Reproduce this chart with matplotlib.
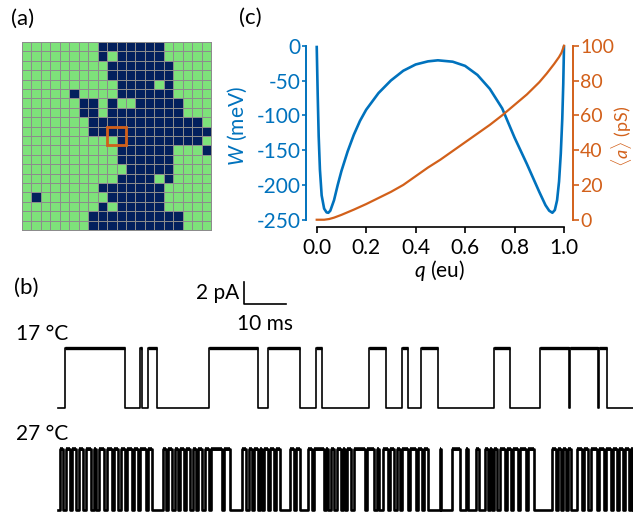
import numpy as np
import matplotlib
matplotlib.use("Agg")
import matplotlib.pyplot as plt
from matplotlib.colors import ListedColormap
from matplotlib.patches import Rectangle

plt.rcParams['font.family'] = ['Lato', 'DejaVu Sans']
plt.rcParams['mathtext.fontset'] = 'custom'
plt.rcParams['mathtext.rm'] = 'Lato'
plt.rcParams['mathtext.it'] = 'Lato:italic'
plt.rcParams['axes.unicode_minus'] = False

BLUE = '#0072bd'
ORANGE = '#d2601a'
GREEN = '#7ee27a'
NAVY = '#03205d'
FS = 15

# (a) lattice, 1 = dark site
lattice_rows = [
    "00000000111111100000",
    "00000000101111100000",
    "00000000011111110000",
    "00000000011111110000",
    "00000000001111010000",
    "00000100001111110000",
    "00000011010011111000",
    "00000011011111111000",
    "00000001111111111110",
    "00000001111111111111",
    "00000000001111111110",
    "00000000001111110001",
    "00000000001111110000",
    "00000000000111110000",
    "00000000001111010000",
    "00000000111111100000",
    "01000000011111100000",
    "00000000101111100000",
    "00000001111111111000",
    "00000001111111111000",
]
box_col, box_row, box_size = 9, 9, 2

# (c) free energy W(q) and conductance <a>(q)
q_w = [0.0, 0.004, 0.008, 0.013, 0.02, 0.03, 0.04, 0.047, 0.055, 0.07, 0.085,
       0.1, 0.125, 0.15, 0.175, 0.2, 0.25, 0.3, 0.35, 0.4, 0.45, 0.49, 0.55,
       0.6, 0.65, 0.7, 0.75, 0.8, 0.85, 0.9, 0.925, 0.94, 0.953, 0.963, 0.972,
       0.98, 0.987, 0.993, 0.997, 1.0]
w_mev = [0, -70, -130, -178, -215, -234, -239.5, -240, -237, -222, -200,
         -180, -152, -128, -108, -92, -68, -50, -36, -27, -22.5, -21, -23,
         -29, -42, -62, -90, -132, -170, -210, -229, -237, -240, -236, -222,
         -195, -155, -105, -55, 0]
q_a = [0.0, 0.03, 0.05, 0.07, 0.1, 0.15, 0.2, 0.25, 0.3, 0.35, 0.4, 0.45, 0.5,
       0.55, 0.6, 0.65, 0.7, 0.75, 0.8, 0.85, 0.9, 0.93, 0.96, 0.98, 0.99, 1.0]
a_ps = [0, 0, 0.4, 1.2, 2.8, 5.8, 9, 12.5, 16, 20, 25, 30, 34.5, 39.5, 44.5,
        49.5, 54.5, 60, 66, 72, 79, 84, 89.5, 93.5, 96, 100]

# (b) single-channel openings (start, end) in ms
open_17 = [(1.7, 16.0), (19.5, 19.9), (21.5, 23.5), (36.0, 47.6), (50.0, 57.6),
           (61.5, 62.8), (74.0, 78.1), (81.8, 83.4), (86.4, 90.5), (103.8, 107.5),
           (114.8, 121.6), (121.9, 128.5), (128.9, 130.6)]
open_27 = [(0.5, 1.2), (1.9, 2.9), (3.3, 4.3), (5.0, 6.0), (6.7, 7.9), (8.6, 9.0),
           (9.8, 11.0), (11.7, 12.9), (13.3, 14.3), (15.0, 16.0), (16.4, 17.6),
           (18.1, 19.0), (19.5, 21.0), (21.4, 22.4), (25.0, 25.7), (26.2, 27.1),
           (27.9, 28.6), (29.0, 30.0), (30.5, 31.4), (32.1, 32.9), (33.3, 34.3),
           (35.0, 36.0), (36.4, 39.0), (39.5, 41.0), (43.8, 44.8), (45.5, 46.2),
           (46.7, 47.6), (48.1, 48.6), (49.0, 50.0), (50.5, 51.4), (51.9, 52.9),
           (55.2, 56.2), (56.7, 57.6), (59.5, 60.5), (61.0, 63.3), (63.8, 64.3),
           (65.0, 65.7), (66.4, 67.4), (67.9, 68.3), (68.8, 69.8), (70.5, 73.1),
           (73.6, 75.2), (76.0, 76.4), (77.4, 78.6), (79.0, 80.0), (80.7, 81.4),
           (81.9, 83.3), (83.8, 85.2), (85.7, 86.7), (87.1, 88.1), (91.0, 91.3),
           (93.8, 95.7), (97.1, 97.6), (99.5, 100.2), (101.7, 102.4), (102.9, 103.3),
           (103.8, 104.5), (105.2, 106.4), (106.9, 107.9), (108.3, 109.5),
           (110.0, 111.4), (111.9, 113.3), (117.6, 118.6), (119.0, 119.8),
           (120.2, 121.0), (121.4, 122.1), (123.6, 124.8), (125.2, 126.2),
           (126.9, 128.3), (128.8, 130.0), (130.5, 131.7), (132.1, 133.1),
           (133.6, 134.5), (135.0, 136.0), (136.4, 136.9)]
i_open = 5.5      # pA
t_end = 136.9     # ms
base_27 = -9.27   # vertical offset of the 27 C trace, pA


def fx(x):
    return x / 633


def fy(y):
    return 1 - y / 516


def steps(openings, base):
    t = [0.0]
    y = [base]
    for s, e in openings:
        t += [s, s, e, e]
        y += [base, base + i_open, base + i_open, base]
    t.append(t_end)
    y.append(base)
    return np.array(t), np.array(y)


fig = plt.figure(figsize=(6.33, 5.16), dpi=100)

# ---------------- (a)
ax_a = fig.add_axes([fx(22), fy(230), 189 / 633, 188 / 516])
grid = np.array([[int(c) for c in row] for row in lattice_rows])
ax_a.pcolormesh(grid, cmap=ListedColormap([GREEN, NAVY]), edgecolors='#8c8c8c',
                linewidth=0.7, clip_on=False)
ax_a.add_patch(Rectangle((box_col, box_row), box_size, box_size, fill=False,
                         ec=ORANGE, lw=2, zorder=5))
ax_a.set_xlim(0, 20)
ax_a.set_ylim(20, 0)
ax_a.axis('off')

# ---------------- (c)
ax_c = fig.add_axes([fx(306), fy(226.7), 267.3 / 633, (226.7 - 44.3) / 516])
ax_c.plot(q_w, w_mev, color=BLUE, lw=1.9, solid_capstyle='butt')
ax_c.set_xlim(-0.0433, 1.0376)
ax_c.set_ylim(-260, 2)
ax_c.set_yticks(np.arange(-250, 1, 50))
ax_c.set_xticks(np.arange(0, 1.01, 0.2))
ax_c.set_xticklabels(['%.1f' % v for v in np.arange(0, 1.01, 0.2)])
for s in ['top', 'right']:
    ax_c.spines[s].set_visible(False)
ax_c.spines['left'].set_bounds(-250, 0)
ax_c.spines['left'].set_color(BLUE)
ax_c.spines['left'].set_linewidth(1.4)
ax_c.spines['bottom'].set_bounds(0, 1)
ax_c.spines['bottom'].set_linewidth(1.2)
ax_c.tick_params(axis='y', colors=BLUE, labelsize=FS, length=3, width=1.2, pad=1)
ax_c.tick_params(axis='x', labelsize=FS, length=4, width=1.2, pad=4)
ax_c.set_ylabel(r'$W$ (meV)', color=BLUE, fontsize=FS)
ax_c.yaxis.set_label_coords(-0.215, 0.55)
ax_c.set_xlabel(r'$q$ (eu)', fontsize=FS, labelpad=0)

ax_r = ax_c.twinx()
ax_r.plot(q_a, a_ps, color=ORANGE, lw=1.6)
ax_r.set_ylim((-260 + 250) / 2.5, (2 + 250) / 2.5)
ax_r.set_yticks(np.arange(0, 101, 20))
for s in ['top', 'left', 'bottom']:
    ax_r.spines[s].set_visible(False)
ax_r.spines['right'].set_bounds(0, 100)
ax_r.spines['right'].set_color(ORANGE)
ax_r.spines['right'].set_linewidth(1.4)
ax_r.tick_params(axis='y', colors=ORANGE, labelsize=14, length=4, width=1.2, pad=1)
fig.text(fx(621), fy(136), r'$\langle a\rangle$ (pS)', color=ORANGE, fontsize=13,
         rotation=90, ha='center', va='center')

# ---------------- (b)
ax_b = fig.add_axes([fx(50), 0, 583 / 633, (516 - 270) / 516])
ax_b.set_xlim((50 - 58) / 4.2, t_end)
ax_b.set_ylim(-(516 - 408) / 11, (408 - 270) / 11)
ax_b.axis('off')

t17, y17 = steps(open_17, 0.0)
ax_b.plot(t17, y17, color='black', lw=1.2)
for s, e in open_17:
    ax_b.plot([s, e], [i_open, i_open], color='black', lw=2.4, solid_capstyle='butt')

t27, y27 = steps(open_27, base_27)
ax_b.plot(t27, y27, color='black', lw=1.9)
for s, e in open_27:
    ax_b.plot([s, e], [base_27 + i_open] * 2, color='black', lw=2.6, solid_capstyle='butt')

# scale bar 2 pA / 10 ms
sb_t, sb_i = 44.3, 9.45
ax_b.plot([sb_t, sb_t, sb_t + 10], [sb_i + 2, sb_i, sb_i], color='black', lw=1.2,
          clip_on=False)
ax_b.text(sb_t - 1.2, sb_i + 1.0, '2 pA', ha='right', va='center', fontsize=FS)
ax_b.text(sb_t + 5.1, sb_i - 1.77, '10 ms', ha='center', va='center', fontsize=FS)

fig.text(fx(16), fy(334), '17 °C', ha='left', va='center', fontsize=FS)
fig.text(fx(16), fy(434), '27 °C', ha='left', va='center', fontsize=FS)

# panel letters
fig.text(fx(23), fy(19), '(a)', ha='center', va='center', fontsize=16)
fig.text(fx(250), fy(18), '(c)', ha='center', va='center', fontsize=16)
fig.text(fx(26), fy(288), '(b)', ha='center', va='center', fontsize=16)

fig.savefig('out.png', dpi=100)
